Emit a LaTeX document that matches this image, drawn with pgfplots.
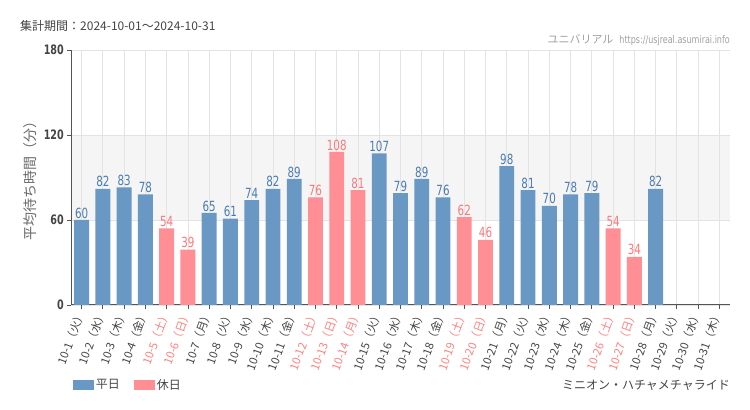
\documentclass[border=0pt]{standalone}
\usepackage{pgfplots}
\pgfplotsset{compat=1.18}
\usepackage{fontspec}
\setmainfont{Noto Sans CJK JP}
\newfontfamily\condfont[FakeStretch=0.82]{DejaVu Sans Condensed}
\newfontfamily\urlfont[FakeStretch=0.85]{DejaVu Sans Condensed}
\definecolor{barblue}{RGB}{106,152,196}
\definecolor{barpink}{RGB}{255,143,148}
\definecolor{labelblue}{RGB}{74,124,178}
\definecolor{labelpink}{RGB}{255,118,124}
\definecolor{tickpink}{RGB}{255,128,128}
\definecolor{bandcol}{RGB}{244,245,244}
\definecolor{gridcol}{RGB}{226,227,226}
\definecolor{axiscol}{RGB}{85,85,85}
\definecolor{txtcol}{RGB}{68,68,68}
\definecolor{lightcol}{RGB}{160,160,160}
\newcommand\hl[1]{\textcolor{tickpink}{#1}}
\pgfplotstableread{
x y
0 60
1 82
2 83
3 78
6 65
7 61
8 74
9 82
10 89
14 107
15 79
16 89
17 76
20 98
21 81
22 70
23 78
24 79
27 82
}\weekday
\pgfplotstableread{
x y
4 54
5 39
11 76
12 108
13 81
18 62
19 46
25 54
26 34
}\holiday
\begin{document}
\begin{tikzpicture}
\path (0,0) rectangle (750bp,410bp);
\begin{axis}[
  set layers,
  at={(71bp,105bp)}, anchor=south west,
  scale only axis, width=659bp, height=255bp,
  xmin=-0.5, xmax=30.5, ymin=0, ymax=180,
  xtick={0,...,30},
  xticklabels={10-1（火）,10-2（水）,10-3（木）,10-4（金）,\hl{10-5（土）},\hl{10-6（日）},10-7（月）,10-8（火）,10-9（水）,10-10（木）,10-11（金）,\hl{10-12（土）},\hl{10-13（日）},\hl{10-14（月）},10-15（火）,10-16（水）,10-17（木）,10-18（金）,\hl{10-19（土）},\hl{10-20（日）},10-21（月）,10-22（火）,10-23（水）,10-24（木）,10-25（金）,\hl{10-26（土）},\hl{10-27（日）},10-28（月）,10-29（火）,10-30（水）,10-31（木）},
  ytick={0,60,120,180},
  xmajorgrids, ymajorgrids,
  grid style={gridcol, line width=0.8bp},
  axis x line*=bottom, axis y line*=left,
  axis line style={axiscol, line width=1bp},
  tick align=outside, major tick length=4bp,
  tick style={axiscol, line width=0.8bp},
  x tick label style={rotate=70, anchor=east, font=\fontsize{11.3bp}{12bp}\selectfont, text=txtcol, inner sep=2bp},
  y tick label style={font=\condfont\bfseries\fontsize{13bp}{13bp}\selectfont, text=txtcol, inner sep=3bp},
  /pgf/number format/assume math mode=true,
  ylabel={平均待ち時間（分）},
  ylabel style={at={(axis description cs:-0.062,0.5)}, anchor=center, font=\fontsize{14bp}{15bp}\selectfont, text=txtcol!80},
  legend style={at={(axis description cs:-0.002,-0.314)}, anchor=west, draw=none, fill=none, legend columns=2, font=\fontsize{12bp}{12bp}\selectfont, text=txtcol, /tikz/every even column/.append style={column sep=12bp}},
  legend image code/.code={\fill[#1] (0bp,-5bp) rectangle (21bp,5bp);},
]
\addplot[fill=bandcol, draw=none, on layer=axis background, forget plot] coordinates {(-0.5,60) (30.5,60) (30.5,120) (-0.5,120)} -- cycle;
\addplot[ybar, bar width=0.7, bar shift=0pt, fill=barblue, draw=none,
  nodes near coords, every node near coord/.append style={text=labelblue, anchor=south, inner sep=1.5bp, font=\condfont\fontsize{14bp}{14bp}\selectfont}] table[x=x,y=y] {\weekday};
\addlegendentry{平日}
\addplot[ybar, bar width=0.7, bar shift=0pt, fill=barpink, draw=none,
  nodes near coords, every node near coord/.append style={text=labelpink, anchor=south, inner sep=1.5bp, font=\condfont\fontsize{14bp}{14bp}\selectfont}] table[x=x,y=y] {\holiday};
\addlegendentry{休日}
\end{axis}
\node[anchor=west, text=txtcol, font=\fontsize{12bp}{12bp}\selectfont, inner sep=0] at (20bp,384bp) {集計期間：2024-10-01～2024-10-31};
\node[anchor=east, text=lightcol, font=\fontsize{11bp}{11bp}\selectfont, inner sep=0] at (730bp,370bp) {ユニバリアル\hspace{6bp}{\urlfont\fontsize{10.5bp}{10.5bp}\selectfont https://usjreal.asumirai.info}};
\node[anchor=east, text=txtcol, font=\fontsize{12bp}{12bp}\selectfont, inner sep=0] at (730bp,25bp) {ミニオン・ハチャメチャライド};
\end{tikzpicture}
\end{document}
